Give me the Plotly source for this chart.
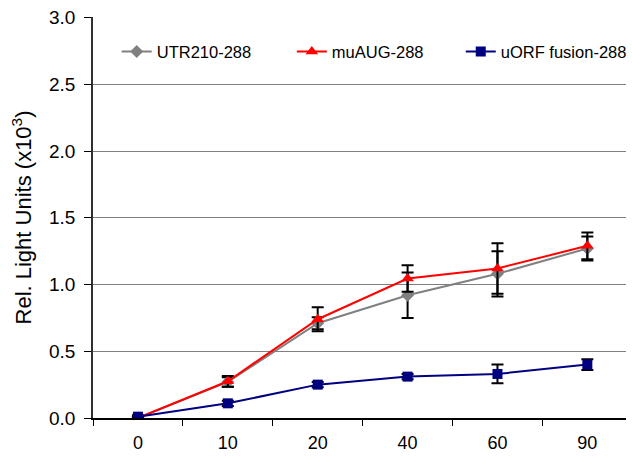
import plotly.graph_objects as go

categories = ["0", "10", "20", "40", "60", "90"]
utr_vals = [0.0, 0.27, 0.71, 0.92, 1.08, 1.27]
utr_err = [0.01, 0.035, 0.045, 0.17, 0.17, 0.09]
mu_vals = [0.0, 0.275, 0.74, 1.045, 1.12, 1.29]
mu_err = [0.01, 0.04, 0.09, 0.10, 0.19, 0.10]
uorf_vals = [0.01, 0.11, 0.25, 0.31, 0.33, 0.40]
uorf_err = [0.01, 0.02, 0.02, 0.02, 0.07, 0.04]
y_ticks = [0.0, 0.5, 1.0, 1.5, 2.0, 2.5, 3.0]

fig = go.Figure()

def add(name, vals, err, color, symbol, size, legend):
    fig.add_trace(go.Scatter(
        x=categories, y=vals, name=name, mode="lines+markers",
        line=dict(color=color, width=2),
        marker=dict(color=color, symbol=symbol, size=size),
        error_y=dict(type="data", array=err, visible=True, color="black",
                     thickness=2, width=6),
        legend=legend,
    ))

add("UTR210-288", utr_vals, utr_err, "#808080", "diamond", 10, "legend")
add("muAUG-288", mu_vals, mu_err, "#ff0000", "triangle-up", 11, "legend2")
add("uORF fusion-288", uorf_vals, uorf_err, "#000080", "square", 10, "legend3")

leg_common = dict(orientation="h", y=0.913, xanchor="left", yanchor="middle",
                  font=dict(size=16.5), bgcolor="rgba(0,0,0,0)", borderwidth=0)

fig.update_layout(
    width=632, height=462,
    margin=dict(l=93, r=0, t=17, b=44),
    plot_bgcolor="white", paper_bgcolor="white",
    font=dict(family="Liberation Sans, Arial, sans-serif", size=18, color="black"),
    showlegend=True,
    legend=dict(x=0.0445, **leg_common),
    legend2=dict(x=0.373, **leg_common),
    legend3=dict(x=0.69, **leg_common),
    xaxis=dict(type="category", range=[-0.5, 5.43], tickson="boundaries",
               ticks="outside", ticklen=6, tickcolor="black", tickwidth=1,
               showline=True, linecolor="black", linewidth=1.5,
               showgrid=False, tickfont=dict(size=18), ticklabelstandoff=8),
    yaxis=dict(range=[0, 3.004], tickvals=y_ticks, ticktext=[f"{v:.1f}" for v in y_ticks],
               ticks="outside", ticklen=7, tickcolor="black", tickwidth=1,
               showline=True, linecolor="#303030", linewidth=1.5,
               showgrid=True, gridcolor="#808080", gridwidth=1,
               zeroline=False, tickfont=dict(size=19), ticklabelstandoff=5,
               title=dict(text="Rel. Light Units (x10<sup>3</sup>)", font=dict(size=22), standoff=11)),
)

fig.write_html("out.html")
